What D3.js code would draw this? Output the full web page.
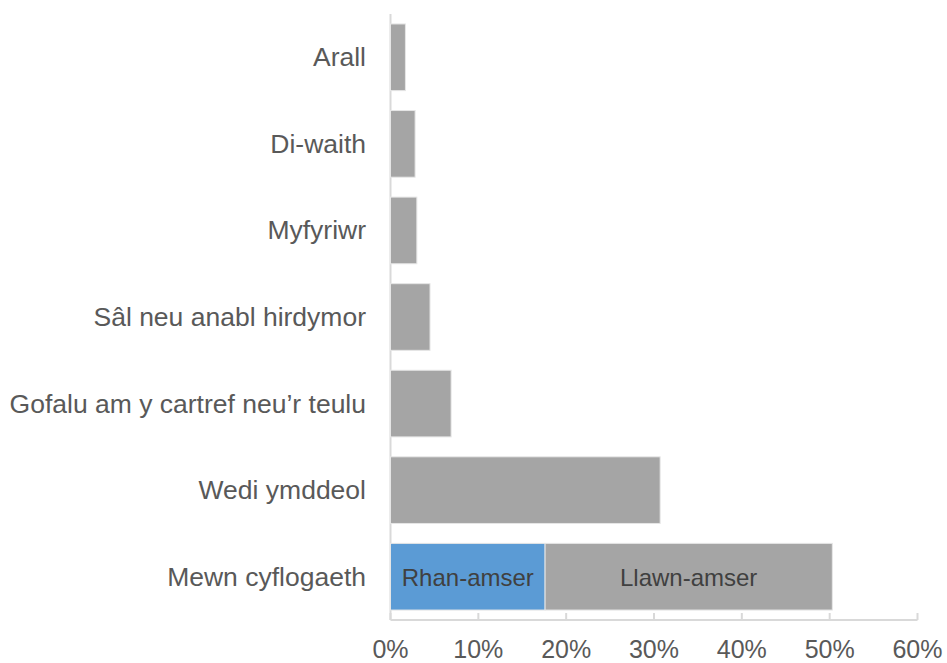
<!DOCTYPE html>
<html>
<head>
<meta charset="utf-8">
<script src="https://cdn.jsdelivr.net/npm/d3@7"></script>
<style>
  html, body { margin: 0; padding: 0; background: #fff; }
  svg { display: block; font-family: "Liberation Sans", Arial, sans-serif; }
</style>
</head>
<body>
<svg id="chart" width="947" height="663"></svg>
<script>
// Economic status categories, top to bottom
const categories = [
  "Arall",
  "Di-waith",
  "Myfyriwr",
  "Sâl neu anabl hirdymor",
  "Gofalu am y cartref neu’r teulu",
  "Wedi ymddeol",
  "Mewn cyflogaeth"
];
// Share of people in each status (%); employment split into part-time and full-time
const partTime = [0, 0, 0, 0, 0, 0, 17.6];
const fullTime = [1.7, 2.8, 3.0, 4.5, 6.9, 30.7, 32.7];
const segmentNames = ["Rhan-amser", "Llawn-amser"];
const tickValues = [0, 10, 20, 30, 40, 50, 60];

const svg = d3.select("#chart");
const plotLeft = 390.5, plotRight = 917.5, plotTop = 14, plotBottom = 620;

const x = d3.scaleLinear().domain([0, 60]).range([plotLeft, plotRight]);
const y = d3.scaleBand().domain(categories).range([plotTop, plotBottom]).paddingInner(0.23).paddingOuter(0.115);

const rows = categories.map((c, i) => ({ cat: c, part: partTime[i], full: fullTime[i] }));

// Vertical category axis line
svg.append("line")
  .attr("x1", plotLeft).attr("x2", plotLeft)
  .attr("y1", plotTop).attr("y2", plotBottom)
  .attr("stroke", "#d9d9d9").attr("stroke-width", 2);

// Bottom axis line with upward ticks
svg.append("line")
  .attr("x1", plotLeft).attr("x2", plotRight)
  .attr("y1", plotBottom).attr("y2", plotBottom)
  .attr("stroke", "#d9d9d9").attr("stroke-width", 2);
svg.selectAll(".tick").data(tickValues).enter().append("line")
  .attr("x1", d => x(d)).attr("x2", d => x(d))
  .attr("y1", plotBottom - 7).attr("y2", plotBottom)
  .attr("stroke", "#d9d9d9").attr("stroke-width", 2);

// Tick labels
svg.selectAll(".tlab").data(tickValues).enter().append("text")
  .attr("x", d => x(d)).attr("y", 658)
  .attr("text-anchor", "middle")
  .attr("font-size", 25).attr("fill", "#595959")
  .text(d => d + "%");

// Part-time segment
svg.selectAll(".part").data(rows.filter(r => r.part > 0)).enter().append("rect")
  .attr("x", x(0)).attr("y", d => y(d.cat))
  .attr("width", d => x(d.part) - x(0)).attr("height", y.bandwidth())
  .attr("fill", "#5b9bd5").attr("stroke", "#e6e6e6").attr("stroke-width", 1);

// Full-time / total segment
svg.selectAll(".full").data(rows).enter().append("rect")
  .attr("x", d => x(d.part)).attr("y", d => y(d.cat))
  .attr("width", d => x(d.part + d.full) - x(d.part)).attr("height", y.bandwidth())
  .attr("fill", "#a5a5a5").attr("stroke", "#e6e6e6").attr("stroke-width", 1);

// Segment labels inside the employment bar
const emp = rows[rows.length - 1];
svg.append("text")
  .attr("x", (x(0) + x(emp.part)) / 2).attr("y", y(emp.cat) + y.bandwidth() / 2 + 9)
  .attr("text-anchor", "middle").attr("font-size", 24).attr("fill", "#404040")
  .text(segmentNames[0]);
svg.append("text")
  .attr("x", (x(emp.part) + x(emp.part + emp.full)) / 2).attr("y", y(emp.cat) + y.bandwidth() / 2 + 9)
  .attr("text-anchor", "middle").attr("font-size", 24).attr("fill", "#404040")
  .text(segmentNames[1]);

// Category labels
svg.selectAll(".clab").data(categories).enter().append("text")
  .attr("x", 366).attr("y", d => y(d) + y.bandwidth() / 2 + 9)
  .attr("text-anchor", "end")
  .attr("font-size", 26.5).attr("fill", "#595959")
  .text(d => d);
</script>
</body>
</html>
